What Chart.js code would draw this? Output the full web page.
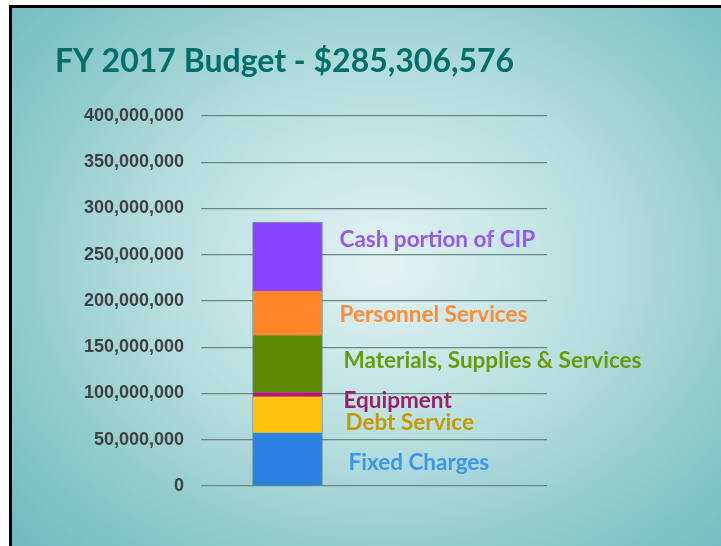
<!DOCTYPE html>
<html>
<head>
    <title>FY 2017 Budget</title>
    <script src="https://cdn.jsdelivr.net/npm/chart.js"></script>
    <style>
        html, body { margin: 0; padding: 0; background: #fff; }
        .slide {
            position: absolute; left: 9px; top: 5px; width: 712px; height: 541px;
            border-left: 3px solid #000; border-top: 3px solid #000;
            background: radial-gradient(ellipse 75% 80% at 52% 47%, #e3f3f3 0%, #b9dfe0 40%, #8fcacc 70%, #68b7ba 100%);
        }
        canvas { position: absolute; left: 0; top: 0; }
    </style>
</head>
<body>
<div class="slide"></div>
<canvas id="budgetChart" width="721" height="546"></canvas>
<script>
    // budget data (dollars)
    const categories = ['FY 2017', ''];
    const segmentNames = ['Fixed Charges', 'Debt Service', 'Equipment',
        'Materials, Supplies & Services', 'Personnel Services', 'Cash portion of CIP'];
    const fixedCharges = [57600000, null];
    const debtService = [38900000, null];
    const equipment = [4800000, null];
    const materials = [61600000, null];
    const personnel = [47900000, null];
    const cashCIP = [74506576, null];
    const yTicks = [0, 50000000, 100000000, 150000000, 200000000, 250000000, 300000000, 350000000, 400000000];

    const barColors = ['#2c82e0', '#ffc20e', '#b51a6e', '#5e8a00', '#ff8628', '#8944ff'];
    const textColors = ['#3b97ea', '#c79a00', '#9a1f6b', '#6b9a0c', '#ff8c35', '#9657f6'];
    // small nudges so the labels sit like on the slide
    const nudge = [[26, 4], [23, 8], [21, 6], [21, -3], [17, 2], [17, -17]];

    const segmentLabels = {
        id: 'segmentLabels',
        afterDatasetsDraw(chart) {
            const ctx = chart.ctx;
            ctx.save();
            ctx.font = 'bold 22.5px Lato';
            ctx.textBaseline = 'middle';
            chart.data.datasets.forEach((ds, i) => {
                const el = chart.getDatasetMeta(i).data[0];
                const x = el.x + el.width / 2 + nudge[i][0];
                const y = (el.y + el.base) / 2 + nudge[i][1];
                ctx.fillStyle = textColors[i];
                ctx.fillText(ds.label, x, y);
            });
            ctx.restore();
        }
    };

    const slideTitle = {
        id: 'slideTitle',
        afterDraw(chart) {
            const ctx = chart.ctx;
            ctx.save();
            ctx.font = 'bold 32px Lato';
            ctx.fillStyle = '#006f6a';
            ctx.textBaseline = 'alphabetic';
            ctx.fillText('FY 2017 Budget - $285,306,576', 55, 72);
            ctx.restore();
        }
    };

    const seriesValues = [fixedCharges, debtService, equipment, materials, personnel, cashCIP];

    window.onload = () => {
        const ctx = document.getElementById('budgetChart').getContext('2d');
        new Chart(ctx, {
            type: 'bar',
            data: {
                labels: categories,
                datasets: seriesValues.map((vals, i) => ({
                    label: segmentNames[i],
                    data: vals,
                    backgroundColor: barColors[i],
                    borderColor: 'rgba(90,120,140,0.7)',
                    borderWidth: { left: 1, right: 1, top: i === 5 ? 1 : 0, bottom: 0 },
                    borderSkipped: false,
                    barThickness: 70
                }))
            },
            options: {
                responsive: false,
                animation: false,
                layout: { padding: { left: 0, right: 174, top: 116, bottom: 60 } },
                plugins: { legend: { display: false }, title: { display: false }, tooltip: { enabled: false } },
                scales: {
                    x: { stacked: true, display: false },
                    y: {
                        stacked: true,
                        min: 0, max: 400000000,
                        afterBuildTicks: (scale) => { scale.ticks = yTicks.map(v => ({ value: v })); },
                        afterFit: (scale) => { scale.width = 201; },
                        border: { display: false },
                        grid: { color: '#6e8586', lineWidth: 1.2, drawTicks: false },
                        ticks: {
                            padding: 17,
                            color: '#404040',
                            font: { family: 'Liberation Sans', weight: 'bold', size: 18 },
                            callback: (v) => v.toLocaleString('en-US')
                        }
                    }
                }
            },
            plugins: [segmentLabels, slideTitle]
        });
    };
</script>
</body>
</html>
